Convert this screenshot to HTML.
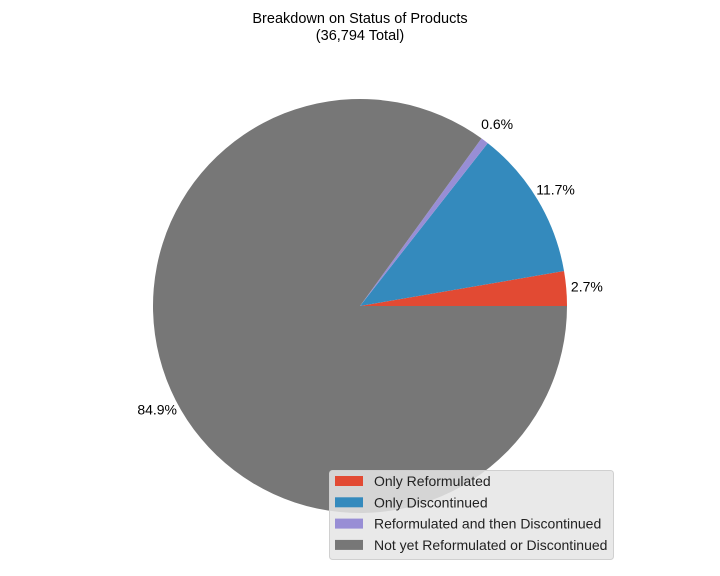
<!DOCTYPE html>
<html><head><meta charset="utf-8"><style>
body{margin:0;background:#fff;}
svg{display:block;font-family:"Liberation Sans",Arial,sans-serif;}
</style></head><body>
<svg id="chart" width="720" height="576" viewBox="0 0 720 576">
<text x="360" y="23" text-anchor="middle" font-size="14.5" fill="#000">Breakdown on Status of Products</text>
<text x="360" y="40" text-anchor="middle" font-size="14.5" fill="#000">(36,794 Total)</text>
<g id="slices"></g>
<g id="labels"></g>
<g id="legend"></g>
</svg>
<script>
const categories=["Only Reformulated","Only Discontinued","Reformulated and then Discontinued","Not yet Reformulated or Discontinued"];
const values=[2.7,11.7,0.6,84.9];
const colors=["#E24A33","#348ABD","#988ED5","#777777"];
const NS="http://www.w3.org/2000/svg";
const cx=360,cy=306,r=207;
const total=values.reduce((a,b)=>a+b,0);
const sg=document.getElementById('slices'),lg=document.getElementById('labels'),leg=document.getElementById('legend');
let a0=0;
values.forEach((v,i)=>{
  const a1=a0+v/total*2*Math.PI;
  const x0=cx+r*Math.cos(a0),y0=cy-r*Math.sin(a0),x1=cx+r*Math.cos(a1),y1=cy-r*Math.sin(a1);
  const large=(a1-a0)>Math.PI?1:0;
  const p=document.createElementNS(NS,'path');
  p.setAttribute('d',`M${cx},${cy} L${x0},${y0} A${r},${r} 0 ${large} 0 ${x1},${y1} Z`);
  p.setAttribute('fill',colors[i]);
  
  
  sg.appendChild(p);
  const am=(a0+a1)/2;
  const lx=cx+1.1*r*Math.cos(am),ly=cy-1.1*r*Math.sin(am);
  const t=document.createElementNS(NS,'text');
  t.setAttribute('x',lx);t.setAttribute('y',ly+5);
  t.setAttribute('font-size','14');
  t.setAttribute('text-anchor','middle');
  t.textContent=v.toFixed(1)+'%';
  
  
  lg.appendChild(t);
  a0=a1;
});
const box=document.createElementNS(NS,'rect');
box.setAttribute('x',329.5);box.setAttribute('y',470.5);box.setAttribute('width',284);box.setAttribute('height',89);
box.setAttribute('rx',3);box.setAttribute('fill','#e5e5e5');box.setAttribute('fill-opacity','0.85');box.setAttribute('stroke','#d0d0d0');


leg.appendChild(box);
categories.forEach((c,i)=>{
  const y=481+i*21.3;
  const pr=document.createElementNS(NS,'rect');
  pr.setAttribute('x',335);pr.setAttribute('y',y-5);pr.setAttribute('width',28);pr.setAttribute('height',10);pr.setAttribute('fill',colors[i]);
  
  
  leg.appendChild(pr);
  const t=document.createElementNS(NS,'text');
  t.setAttribute('x',374);t.setAttribute('y',y+5);t.setAttribute('font-size','14');t.setAttribute('fill','#222');
  t.textContent=c;
  
  
  leg.appendChild(t);
});
</script>
</body></html>
